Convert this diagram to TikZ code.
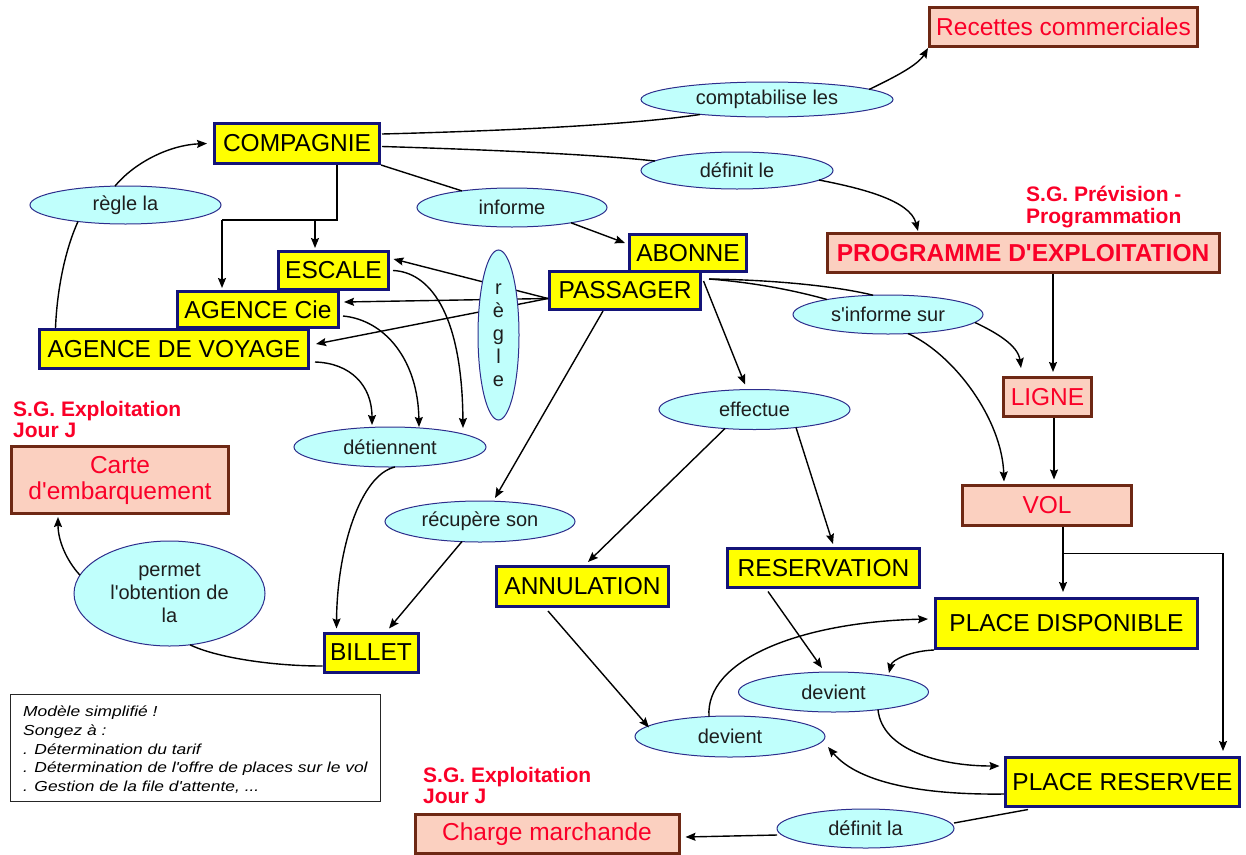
\documentclass[tikz,border=0pt]{standalone}
\usepackage{fontspec}
\setmainfont{Liberation Sans}[Ligatures=TeXOff]
\newfontfamily\notefont{Liberation Sans}[FakeStretch=1.2,Ligatures=TeXOff]
\usetikzlibrary{shapes.geometric,arrows.meta,calc}
\definecolor{boxyellow}{RGB}{255,255,0}
\definecolor{boxnavy}{RGB}{20,20,120}
\definecolor{boxpink}{RGB}{251,208,192}
\definecolor{boxbrown}{RGB}{110,40,20}
\definecolor{labred}{RGB}{250,0,40}
\definecolor{bubfill}{RGB}{192,255,252}
\definecolor{bubline}{RGB}{45,45,140}
\definecolor{bubtext}{RGB}{30,30,30}

\begin{document}
\begin{tikzpicture}[x=1pt,y=-1pt,
  sz/.style 2 args={minimum width=#1pt, minimum height=#2pt},
  ybox/.style={draw=boxnavy, fill=boxyellow, line width=3pt, inner sep=0pt,
    font=\fontsize{24.5}{28}\selectfont},
  rbox/.style={draw=boxbrown, fill=boxpink, line width=3pt, inner sep=0pt,
    text=labred, font=\fontsize{24.5}{26}\selectfont},
  bub/.style={ellipse, draw=bubline, fill=bubfill, line width=1pt, inner sep=0pt,
    text=bubtext, font=\fontsize{20}{23}\selectfont},
  conn/.style={line width=1.4pt},
  arr/.style={conn, -{Stealth[length=10pt,width=8pt,inset=1.5pt]}},
  redlbl/.style={text=labred, font=\bfseries\fontsize{21}{21.5}\selectfont,
    align=left, inner sep=0pt, anchor=north west},
]
\useasboundingbox (0,0) rectangle (1246,854);

% ---- concept boxes (yellow) ----
\node[ybox, sz={165}{40}] (comp) at (297,143.5) {COMPAGNIE};
\node[ybox, sz={110}{38}] (escale) at (333.5,270.5) {ESCALE};
\node[ybox, sz={161}{36}] (agcie) at (258,309.5) {AGENCE Cie};
\node[ybox, sz={269}{39}] (agvoy) at (174,349) {AGENCE DE VOYAGE};
\node[ybox, sz={117}{37}] (abonne) at (688,253) {ABONNE};
\node[ybox, sz={151}{38}] (passager) at (625,290.5) {PASSAGER};
\node[ybox, sz={172}{40}] (annul) at (582.5,586.5) {ANNULATION};
\node[ybox, sz={192}{39}] (reserv) at (823.5,568) {RESERVATION};
\node[ybox, sz={262}{50}] (pdisp) at (1066.5,623.5) {PLACE DISPONIBLE};
\node[ybox, sz={234}{49}] (pres) at (1122.5,782) {PLACE RESERVEE};
\node[ybox, sz={94}{39}] (billet) at (371,652.5) {BILLET};

% ---- boxes of the other subsystems (pink) ----
\node[rbox, sz={268}{39}] (recettes) at (1063.5,27) {Recettes commerciales};
\node[rbox, sz={392}{39}, font=\bfseries\fontsize{24.5}{28}\selectfont] (prog) at (1023,253) {PROGRAMME D'EXPLOITATION};
\node[rbox, sz={88}{39}] (ligne) at (1047.5,397) {LIGNE};
\node[rbox, sz={169}{40}] (vol) at (1047,505.5) {VOL};
\node[rbox, sz={217}{67}, align=center] (carte) at (120,480) {Carte\\d'embarquement};
\node[rbox, sz={264}{39}] (charge) at (547,834) {Charge marchande};

% ---- relation bubbles ----
\node[bub, sz={252}{35}] (ecompta) at (767,99.5) {comptabilise les};
\node[bub, sz={192}{37}] (edefle) at (737,170.5) {définit le};
\node[bub, sz={191}{38}] (eregla) at (125.5,205) {règle la};
\node[bub, sz={190}{39}] (einforme) at (512,207.5) {informe};
\node[bub, sz={190}{39}] (esinf) at (888,314.5) {s'informe sur};
\node[bub, sz={191}{40}] (eeffect) at (754.5,409.5) {effectue};
\node[bub, sz={192}{40}] (edetien) at (390,447) {détiennent};
\node[bub, sz={190}{41}] (erecup) at (480,521.5) {récupère son};
\node[bub, sz={191}{105}, align=center] (epermet) at (169.5,593.5) {permet\\l'obtention de\\la};
\node[bub, sz={190}{40}] (edev1) at (833.5,692) {devient};
\node[bub, sz={190}{41}] (edev2) at (730,736.5) {devient};
\node[bub, sz={177}{39}] (edefla) at (865.5,828.5) {définit la};

% ---- subsystem labels ----
\node[redlbl] (sgexp1) at (13,401) {S.G. Exploitation\\Jour J};
\node[redlbl] (sgexp2) at (423,767) {S.G. Exploitation\\Jour J};
\node[redlbl] (sgprev) at (1026,186) {S.G. Prévision -\\Programmation};

% ---- remark box ----
\node[draw=black!85, line width=1pt, fill=white, sz={370}{107}, inner sep=0pt] (note) at (195.5,747.5) {};
\node[anchor=north west, inner sep=0pt, align=left,
  font=\notefont\itshape\fontsize{14.5}{18.7}\selectfont] (notetext) at (23,706)
  {Modèle simplifié !\\Songez à :\\. Détermination du tarif\\. Détermination de l'offre de places sur le vol\\. Gestion de la file d'attente, ...};

% ---- COMPAGNIE links ----
\draw[conn] ($(comp)+(85,-9.5)$) .. controls (500,131) and (630,125) .. ($(ecompta)+(-67,15)$);
\draw[arr] ($(ecompta)+(102,-10)$) .. controls (895,77) and (918,65) .. (recettes.south west);
\draw[conn] ($(comp)+(85,3)$) .. controls (500,150) and (600,155) .. ($(edefle)+(-82,-9.5)$);
\draw[arr] ($(edefle)+(82,9.5)$) .. controls (860,188) and (910,200) .. ($(prog.north)+(-105,-1)$);
\draw[conn] (comp.south east) -- ($(einforme)+(-50,-16.6)$);
\draw[arr] ($(einforme)+(59,15.3)$) -- ($(abonne.west)+(-3,-10)$);

\coordinate (split) at (337,220);
\coordinate (splitL) at (222,220);
\coordinate (splitE) at (315,220);
\draw[conn] (comp.south -| split) -- (split) -- (splitL);
\draw[arr] (splitL) -- ($(agcie.north -| splitL)+(0,-2)$);
\draw[arr] (splitE) -- ($(escale.north -| splitE)+(0,-2)$);

\draw[conn] ($(agvoy.north west)+(17.5,0)$) .. controls (57,290) and (65,250) .. ($(eregla)+(-47.5,16.5)$);
\draw[arr] ($(eregla)+(-10.5,-18.9)$) .. controls (135,162) and (170,145) .. ($(comp.west)+(-6,0)$);

% ---- PASSAGER regle the sales points (behind the vertical bubble) ----
\coordinate (pw) at ($(passager.west)+(0,8)$);
\draw[arr] (pw) -- ($(escale.east)+(3.5,-11.5)$);
\draw[arr] (pw) -- ($(agcie.east)+(4,-7.5)$);
\draw[arr] (pw) -- ($(agvoy.east)+(6,-5)$);
\node[bub, sz={41}{170}, align=center] (eregle) at (498.5,335) {r\\è\\g\\l\\e};

% ---- detiennent / billet ----
\draw[arr] ($(escale.east)+(3,0)$) .. controls (428,272) and (462,310) .. ($(edetien)+(73,-19)$);
\draw[arr] ($(agcie.east)+(3,6.5)$) .. controls (385,320) and (418,360) .. ($(edetien)+(29,-20)$);
\draw[arr] ($(agvoy.east)+(5,13)$) .. controls (350,363) and (372,385) .. ($(edetien)+(-18,-22)$);
\draw[arr] ($(edetien)+(5,20)$) .. controls (360,475) and (337,550) .. ($(billet.north west)+(14,-3)$);
\draw[arr] ($(passager.south)+(-22,0)$) -- ($(erecup)+(15,-23.5)$);
\draw[arr] ($(erecup)+(-18,20)$) -- ($(billet.north)+(18,-3)$);

% ---- effectue ----
\draw[arr] ($(passager.east)+(1.5,-9.5)$) -- ($(eeffect)+(-9.5,-25)$);
\draw[arr] ($(eeffect)+(-29.5,19)$) -- ($(annul.north)+(5.5,-3)$);
\draw[arr] ($(eeffect)+(41.5,18)$) -- ($(reserv.north)+(9.5,-3)$);

% ---- s'informe sur ----
\coordinate (pe) at ($(passager.east)+(7,-11.5)$);
\draw[conn] (pe) .. controls (760,283) and (800,292) .. ($(esinf)+(-61,-15)$);
\draw[conn] (pe) .. controls (780,280) and (840,287) .. ($(esinf)+(-15,-19.3)$);
\draw[arr] ($(esinf)+(87,8)$) .. controls (995,332) and (1018,345) .. ($(ligne.north)+(-26.5,-8)$);
\draw[arr] ($(esinf)+(20,19)$) .. controls (955,355) and (1002,420) .. ($(vol.north)+(-43,-2.5)$);

% ---- programme, ligne, vol, places ----
\draw[arr] ($(prog.south)+(30,0)$) -- ($(ligne.north)+(5.5,-4)$);
\draw[arr] ($(ligne.south)+(6.5,0)$) -- ($(vol.north)+(7,-4.5)$);
\coordinate (vsplit) at ($(vol.south)+(16,26.5)$);
\draw[arr] ($(vol.south)+(16,0)$) -- ($(pdisp.north)+(-3.5,-5)$);
\draw[arr] (vsplit) -| ($(pres.north)+(100.5,-5)$);

% ---- devient ----
\draw[arr] ($(reserv.south)+(-55.5,2.5)$) -- ($(edev1)+(-11.5,-24)$);
\draw[arr] (pdisp.south west) .. controls (910,651) and (892,660) .. ($(edev1)+(55.5,-19)$);
\draw[arr] ($(edev2)+(-21,-20)$) .. controls (705,660) and (800,622) .. ($(pdisp.west)+(-6,-4.5)$);
\draw[arr] ($(annul.south)+(-34.5,3)$) -- ($(edev2)+(-81,-9)$);
\draw[arr] ($(edev1)+(44.5,17.7)$) .. controls (882,750) and (940,766) .. ($(pres.west)+(-4.5,-16)$);
\draw[arr] ($(pres.west)+(0,12)$) .. controls (930,795) and (860,785) .. ($(edev2)+(98,10.5)$);

% ---- charge marchande ----
\draw[conn] ($(pres.south)+(-94.5,1.5)$) -- ($(edefla)+(88.5,-5.5)$);
\draw[arr] ($(edefla)+(-88.5,6.5)$) -- ($(charge.east)+(5,3)$);

% ---- carte d'embarquement ----
\draw[conn] ($(billet.west)+(0,13.5)$) .. controls (270,666) and (215,657) .. ($(epermet)+(20.5,51.3)$);
\draw[arr] ($(epermet)+(-89.5,-18.3)$) .. controls (66,560) and (58,540) .. ($(carte.south)+(-62,2)$);
\end{tikzpicture}
\end{document}
